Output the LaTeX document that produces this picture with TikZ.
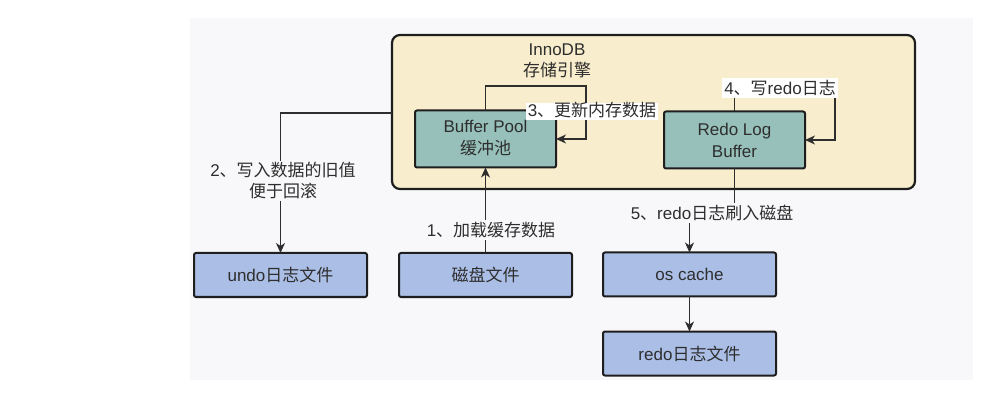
\documentclass[tikz,border=0pt]{standalone}
\usepackage{fontspec}
\setmainfont{Liberation Sans}
\newfontfamily\cjk{Noto Sans CJK SC}
\usetikzlibrary{arrows.meta}
\definecolor{bgc}{HTML}{F8F8FA}
\definecolor{cream}{HTML}{F8EDCC}
\definecolor{tealc}{HTML}{96C0B9}
\definecolor{bluec}{HTML}{AABEE6}
\definecolor{edge}{HTML}{1E1E1E}
\definecolor{txt}{HTML}{2E2E2E}
\tikzset{
  box/.style={draw=edge, line width=2pt, rounded corners=2pt, inner sep=0pt, outer sep=0pt,
    align=center, text=txt, font=\fontsize{17}{22}\selectfont},
  tbox/.style={box, fill=tealc, minimum width=141pt, minimum height=57pt},
  bbox/.style={box, fill=bluec, minimum width=173pt, minimum height=44pt},
  lab/.style={inner sep=2pt, align=center, text=txt, font=\fontsize{17}{21}\selectfont},
  conn/.style={draw=txt, line width=1.2pt},
  arr/.style={conn, -{Stealth[length=10pt,width=9pt,inset=3pt]}},
}
\begin{document}
\begin{tikzpicture}[x=1pt,y=-1pt]
\useasboundingbox (0,0) rectangle (992,411);
\fill[bgc] (190,18) rectangle (973,380);
\node[draw=edge, fill=cream, line width=2.2pt, rounded corners=8pt, minimum width=523pt, minimum height=154pt, inner sep=0pt, outer sep=0pt] (inno) at (653.5,112) {};
\node[lab] (title) at (557,61) {InnoDB\\{\cjk 存储引擎}};
\node[tbox] (bp) at (485.5,139) {\raisebox{-3pt}{\begin{tabular}{@{}c@{}}Buffer Pool\\{\cjk 缓冲池}\end{tabular}}};
\node[tbox] (rlb) at (734.5,140) {Redo Log\\Buffer};
\node[bbox] (undo) at (280.5,275) {undo{\cjk 日志文件}};
\node[bbox] (disk) at (485.5,275) {{\cjk 磁盘文件}};
\node[bbox] (osc) at (689.5,274.5) {os cache};
\node[bbox] (redof) at (689.5,353.5) {redo{\cjk 日志文件}};
\coordinate (c2) at (0,113);
\coordinate (c3) at (586,86);
\coordinate (c4) at (835,88);
% step 1
\draw[arr] (disk.north) -- (bp.south);
% step 2
\draw[arr] (inno.west |- c2) -| (undo.north);
% step 3
\draw[arr] (bp.north) |- (c3) |- (bp.east);
% step 4
\draw[arr] (rlb.north) |- (c4) |- (rlb.east);
% labels
\node[lab, fill=white, inner ysep=1pt, text height=12pt, text depth=3pt] (l3) at (592,112) {3{\cjk 、更新内存数据}};
\node[lab, fill=bgc] (l1) at (491,230) {1{\cjk 、加载缓存数据}};
\node[lab, fill=bgc] (l2) at (283,181) {2{\cjk 、写入数据的旧值}\\{\cjk 便于回滚}};
\node[lab, fill=white] (l4) at (780,88) {4{\cjk 、写}redo{\cjk 日志}};
\node[lab, fill=bgc] (l5) at (712,213) {5{\cjk 、}redo{\cjk 日志刷入磁盘}};
% step 5
\draw[conn] (rlb.south) -- (rlb.south |- l5.north);
\draw[arr] (osc.north |- l5.south) -- (osc.north);
\draw[arr] (osc.south) -- (redof.north);
\end{tikzpicture}
\end{document}
